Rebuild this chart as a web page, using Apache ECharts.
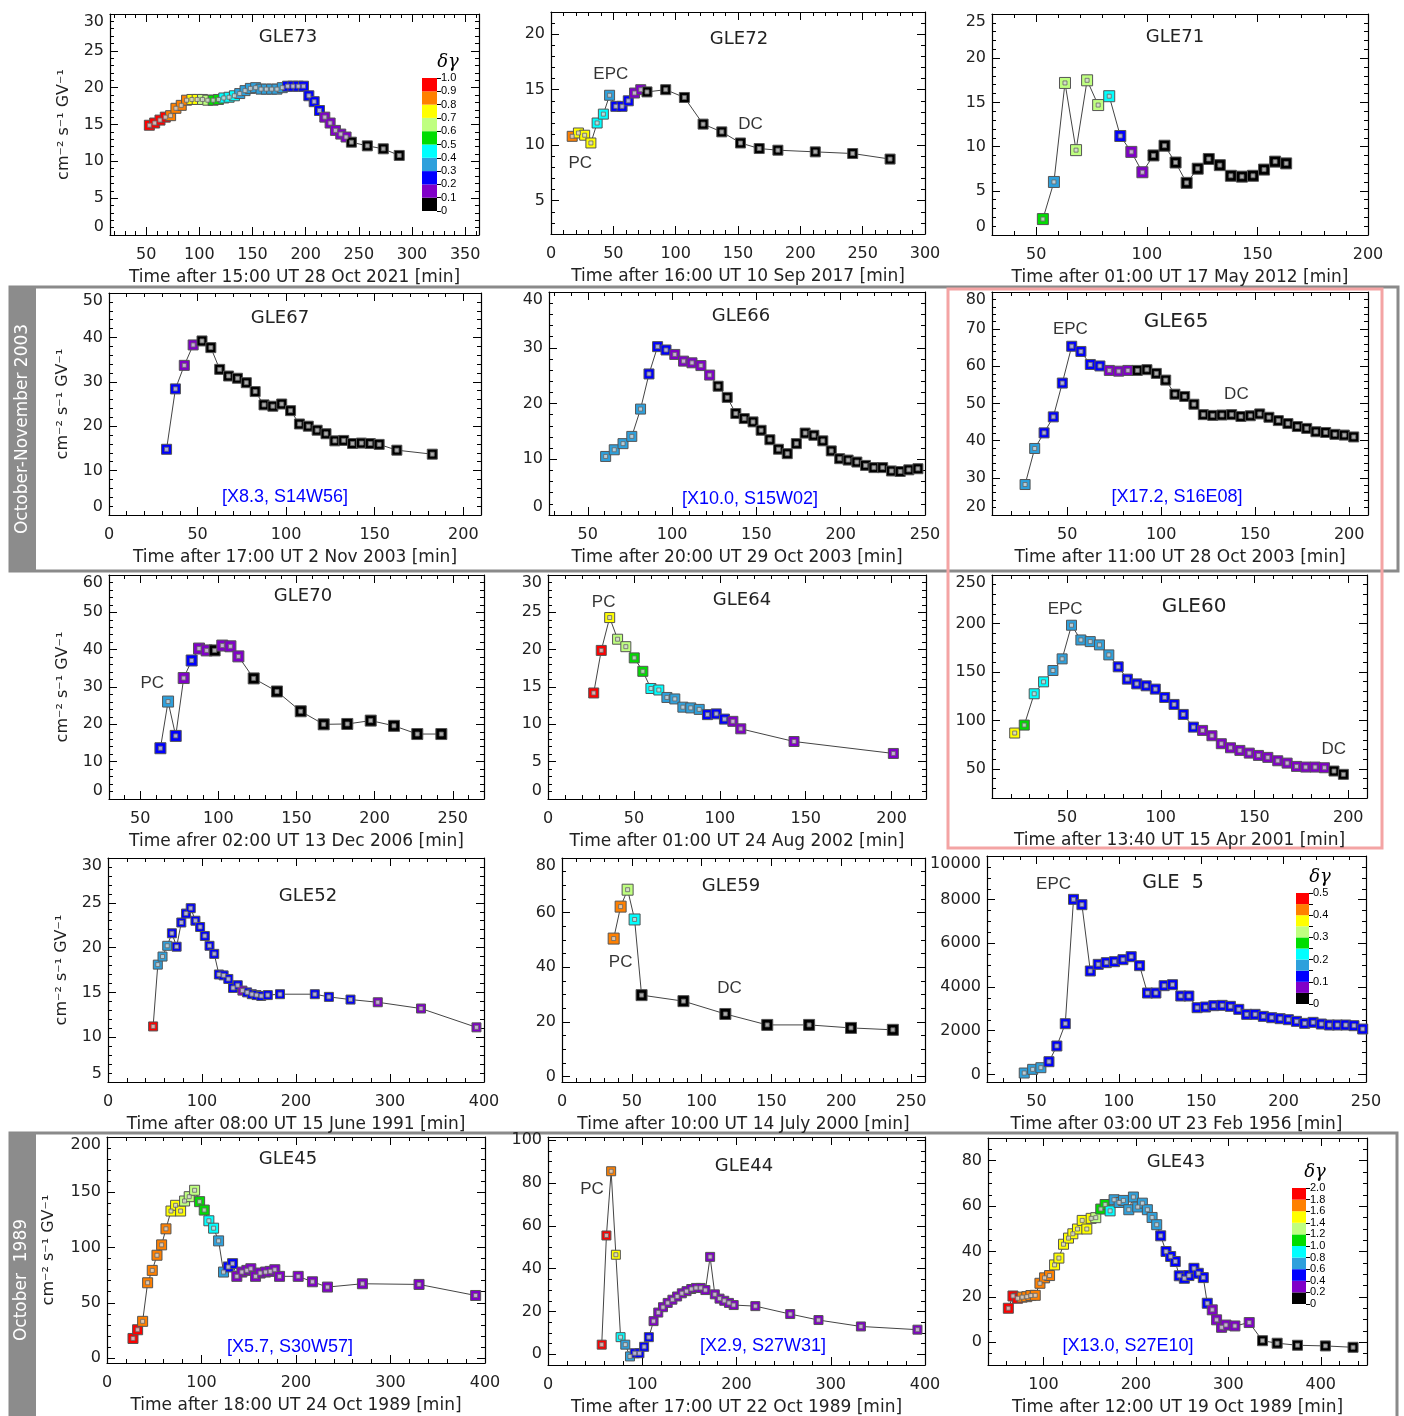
<!DOCTYPE html>
<html><head><meta charset="utf-8">
<script src="https://cdn.jsdelivr.net/npm/echarts@6/dist/echarts.min.js"></script>
<style>html,body{margin:0;padding:0;background:#fff}#c{width:1404px;height:1416px}</style>
</head><body><div id="c"></div>
<script>
// δγ colour table (bins from 0 upward)
const PALETTE = ['#000000','#8000c8','#0000ff','#2ea0dc','#00ffff','#00dd00','#bfff80','#ffff00','#ff8000','#ff0000'];

// ---------------- DATA ----------------
const gle73Time = [53,58,63,68,73,78,83,88,93,98,103,108,113,118,123,128,133,138,143,148,153,158,163,168,173,178,183,188,193,198,203,208,213,218,223,228,233,238,243,258,273,288];
const gle73Flux = [14.9,15.2,15.6,16.0,16.2,17.2,17.6,18.3,18.4,18.4,18.4,18.3,18.3,18.4,18.6,18.7,18.9,19.2,19.6,19.9,20.0,19.8,19.8,19.8,19.8,20.0,20.2,20.2,20.2,20.2,18.9,18.1,16.9,16.0,15.2,14.2,13.7,13.3,12.6,12.1,11.7,10.8];
const gle73Dg   = [9,9,9,9,8,8,8,8,7,7,6,6,5,5,4,4,4,3,3,3,3,3,3,3,3,3,2,2,2,2,2,2,2,1,1,1,1,1,0,0,0,0];

const gle72Time = [17,22,27,32,37,42,47,52,57,62,67,72,77,92,107,122,137,152,167,182,212,242,272];
const gle72Flux = [10.8,11.1,10.9,10.2,12.0,12.8,14.5,13.5,13.5,14.0,14.7,15.0,14.8,15.0,14.3,11.9,11.2,10.2,9.7,9.55,9.4,9.25,8.75];
const gle72Dg   = [8,7,7,7,4,4,3,2,2,2,1,1,0,0,0,0,0,0,0,0,0,0,0];

const gle71Time = [53,58,63,68,73,78,83,88,93,98,103,108,113,118,123,128,133,138,143,148,153,158,163];
const gle71Flux = [1.8,6.0,17.2,9.6,17.5,14.7,15.7,11.2,9.4,7.1,9.0,10.1,8.2,5.9,7.5,8.6,7.9,6.7,6.6,6.7,7.4,8.3,8.1];
const gle71Dg   = [5,3,6,6,6,6,4,2,1,1,0,0,0,0,0,0,0,0,0,0,0,0,0];

const gle67Time = [32.5,37.5,42.5,47.5,52.5,57.5,62.5,67.5,72.5,77.5,82.5,87.5,92.5,97.5,102.5,107.5,112.5,117.5,122.5,127.5,132.5,137.5,142.5,147.5,152.5,162.5,182.5];
const gle67Flux = [14.8,28.4,33.7,38.3,39.2,37.7,32.8,31.3,30.8,29.8,27.8,24.8,24.5,25.0,23.5,20.5,20.0,19.1,18.3,16.7,16.8,16.1,16.2,16.1,15.9,14.6,13.7];
const gle67Dg   = [2,2,1,1,0,0,0,0,0,0,0,0,0,0,0,0,0,0,0,0,0,0,0,0,0,0,0];

const gle66Time = [60.6,65.7,70.9,76.1,81.3,86.3,91.4,96.4,101.6,106.8,111.8,117.1,122.3,127.3,132.7,137.8,142.8,148.0,152.8,158.0,163.1,168.3,173.7,178.9,184.1,189.4,194.4,199.4,204.4,209.6,214.7,219.7,224.9,230.1,235.3,240.4,245.8];
const gle66Flux = [10.5,11.7,12.8,14.1,19.0,25.3,30.2,29.6,28.8,27.6,27.3,26.8,25.1,23.1,21.1,18.2,17.3,16.7,15.2,13.5,11.8,11.0,12.8,14.7,14.3,13.3,11.5,10.1,9.85,9.5,8.9,8.5,8.5,7.9,7.8,8.1,8.3];
const gle66Dg   = [3,3,3,3,3,2,2,2,1,1,1,1,1,0,0,0,0,0,0,0,0,0,0,0,0,0,0,0,0,0,0,0,0,0,0,0,0];

const gle65Time = [27.6,32.7,37.7,42.6,47.4,52.4,57.3,62.3,67.4,72.4,77.4,82.3,87.3,92.4,97.4,102.4,107.3,112.5,117.4,122.4,127.4,132.3,137.5,142.4,147.4,152.4,157.3,162.3,167.4,172.4,177.4,182.3,187.5,192.4,197.4,202.4];
const gle65Flux = [28.2,37.9,42.1,46.4,55.5,65.4,64.0,60.5,60.1,58.9,58.7,58.9,58.9,59.1,58.1,56.3,52.5,51.9,49.8,47.0,46.8,46.9,47.0,46.5,46.7,47.2,46.3,45.4,44.6,43.8,43.3,42.4,42.2,41.7,41.5,41.0];
const gle65Dg   = [3,3,2,2,2,2,2,2,2,1,1,1,0,0,0,0,0,0,0,0,0,0,0,0,0,0,0,0,0,0,0,0,0,0,0,0];

const gle70Time = [62.9,67.8,72.7,77.8,82.9,87.6,92.5,97.6,102.5,107.7,112.8,122.6,137.5,152.7,167.4,182.5,197.5,212.4,227.3,242.7];
const gle70Flux = [13.6,26.1,16.9,32.4,37.1,40.3,39.8,39.8,41.1,40.9,38.2,32.3,28.8,23.5,20.0,20.1,21.0,19.6,17.4,17.4];
const gle70Dg   = [2,3,2,1,2,1,1,0,1,1,1,0,0,0,0,0,0,0,0,0];

const gle64Time = [26.6,31.0,35.9,40.5,45.3,50.2,55.2,59.9,64.5,69.2,73.8,78.5,83.1,88.0,92.8,97.9,102.7,107.6,112.2,143.2,201.0];
const gle64Flux = [14.2,19.9,24.3,21.4,20.4,18.9,17.1,14.8,14.6,13.6,13.4,12.3,12.2,12.0,11.3,11.4,10.7,10.4,9.4,7.7,6.1];
const gle64Dg   = [9,9,7,6,6,5,5,4,4,3,3,3,3,3,2,2,2,1,1,1,1];

const gle60Time = [22.1,27.2,32.5,37.5,42.5,47.4,52.4,57.4,62.4,67.3,72.3,77.3,82.2,87.2,92.2,97.1,102.1,107.1,112.0,117.4,122.3,127.3,132.3,137.2,142.2,147.2,152.1,157.1,162.4,167.4,172.4,177.3,182.3,187.3,192.4,197.4];
const gle60Flux = [87,95.2,127.5,139.8,151.5,163.5,198.2,183,181.3,177.9,167.6,155.3,142.6,137.7,135.7,132.3,123.7,116.5,106.2,93.1,89.7,84.2,76.0,71.8,69.1,66.3,63.9,61.9,58.4,56.0,52.6,51.9,51.9,51.2,47.8,44.4];
const gle60Dg   = [7,5,4,4,3,3,3,3,3,3,3,2,2,2,2,2,2,2,2,2,1,1,1,1,1,1,1,1,1,1,1,1,1,1,0,0];

const gle52Time = [48,53,58,63,68,73,78,83,88,93,98,103,108,113,118,123,128,133,138,143,148,153,158,163,170,183,220,235,258,287,333,392];
const gle52Flux = [11.2,18.1,19.0,20.2,21.6,20.1,22.8,23.8,24.4,23.0,22.3,21.3,20.2,19.3,17.0,16.9,16.5,15.5,15.8,15.2,15.0,14.8,14.7,14.6,14.7,14.8,14.8,14.5,14.2,13.9,13.2,11.1];
const gle52Dg   = [9,3,3,3,2,2,2,2,2,2,2,2,2,2,2,2,2,2,2,1,2,2,2,2,2,2,2,2,2,1,1,1];

const gle59Time = [37,42,47,52,57,87,117,147,177,207,237];
const gle59Flux = [50.5,62.2,68.4,57.5,29.8,27.6,22.9,18.9,18.9,17.8,17.1];
const gle59Dg   = [8,8,6,4,0,0,0,0,0,0,0];

const gle5Time = [42.6,47.7,52.7,57.6,62.4,67.5,72.5,77.6,82.7,87.5,92.4,97.4,102.5,107.5,112.6,117.4,122.5,127.5,132.6,137.6,142.5,147.5,152.6,157.6,162.7,167.7,172.8,177.6,182.7,187.7,192.8,197.9,202.9,207.8,212.8,217.9,222.9,227.8,232.6,237.7,242.7,248.0];
const gle5Flux = [61,229,305,580,1298,2320,8015,7771,4733,5038,5115,5160,5252,5389,4977,3725,3725,4061,4107,3588,3588,3053,3084,3145,3160,3115,2977,2748,2748,2656,2595,2550,2504,2427,2336,2382,2305,2260,2260,2260,2229,2076];
const gle5Dg   = [3,3,3,2,2,2,2,2,2,2,2,2,2,2,2,2,2,2,2,2,2,2,2,2,2,2,2,2,2,2,2,2,2,2,2,2,2,2,2,2,2,2];

const gle45Time = [27.5,32.4,37.7,43.0,47.9,52.9,57.8,62.4,67.7,72.6,77.9,82.1,87.0,92.7,98.0,102.9,107.8,112.8,118.1,123.3,128.3,132.9,137.4,142.7,148.0,152.2,157.2,162.1,167.8,172.7,177.6,182.6,202.3,217.4,233.3,270.3,330.2,390.1];
const gle45Flux = [17.7,25.6,33.2,68.1,79.3,93.0,102.4,116.9,133.0,138.2,133.0,142.1,146.0,151.8,141.5,133.9,124.2,117.5,106.0,77.8,82.4,85.4,73.9,77.8,79.3,80.8,73.9,76.9,77.8,78.4,79.9,73.9,73.9,69.0,64.2,67.2,66.6,56.6];
const gle45Dg   = [9,9,8,8,8,8,8,8,7,7,7,6,6,6,5,5,4,4,3,3,2,2,1,1,1,1,1,1,1,1,1,1,1,1,1,1,1,1];

const gle44Time = [57,62,67,72,77,82,87,92,97,102,107,112,117,122,127,132,137,142,147,152,157,162,167,172,177,182,187,192,197,220,257,287,332,392];
const gle44Flux = [4.5,55.5,85.5,46.5,8,4.5,-1,0.5,0.5,3.5,8,15.5,19.5,22,24,25.5,27,28.5,29.5,30.5,31,31,30,45.5,28,26,25,24,23,22.5,18.8,16,13,11.5];
const gle44Dg   = [9,9,8,7,4,3,3,2,2,2,2,1,1,1,1,1,1,1,1,1,1,1,1,1,1,1,1,1,1,1,1,1,1,1];

const gle43Time = [62,67,72,77,82,86.4,91.1,96.2,101.2,106.6,112,116.7,121.7,127.1,131.8,136.8,141.9,146.9,151.6,156.6,162,166.7,172.1,176.4,181.8,186.5,192.3,197.3,202,207,212.4,217.5,222.5,226.8,232.6,237.6,242.6,246.9,252.4,257.4,262.8,267.5,272.9,277.2,282.6,287.3,292.7,297.4,307.1,322.6,337,352.8,374.8,405,434.9];
const gle43Flux = [15.0,20.4,19.4,19.9,20.1,20.6,20.7,26.0,28.4,29.4,34.1,37.1,43.2,45.9,47.8,49.9,53.7,49.9,54.6,54.9,58.7,60.7,57.9,62.8,61.6,62.5,58.4,64.0,59.6,61.3,58.4,55.0,51.8,46.9,40.0,37.8,35.6,29.3,28.2,29.4,32.6,30.4,28.5,17.2,14.3,9.9,6.6,7.6,7.2,8.7,0.7,-0.4,-1.3,-1.6,-2.2];
const gle43Dg   = [9,9,9,8,8,8,8,8,8,8,7,7,7,7,7,7,7,7,7,6,5,5,4,3,3,3,3,3,3,3,3,3,3,2,2,2,2,2,2,2,2,2,2,2,1,1,1,1,1,1,0,0,0,0,0];

// colour bar scales (legend values)
const cbar73 = {max:1.0, step:0.1, labelStep:0.1};
const cbar5  = {max:0.5, step:0.05, labelStep:0.1};
const cbar43 = {max:2.0, step:0.2, labelStep:0.2};

// text annotations [x, y, text] in data units
const gle72Notes = [[48,16.4,'EPC'],[23.5,8.4,'PC'],[160,11.9,'DC']];
const gle65Notes = [[51.7,70,'EPC'],[140,52.4,'DC']];
const gle70Notes = [[57.7,30.9,'PC']];
const gle64Notes = [[32.4,26.4,'PC']];
const gle60Notes = [[49,214.6,'EPC'],[192.3,69.8,'DC']];
const gle59Notes = [[42,41.8,'PC'],[120,32.4,'DC']];
const gle5Notes  = [[60.4,8687,'EPC']];
const gle44Notes = [[46.7,77,'PC']];

// ---------------- LAYOUT ----------------
const YNAME = 'cm\u207B\u00B2 s\u207B\u00B9 GV\u207B\u00B9';
const panels = [
 {t:gle73Time,f:gle73Flux,c:gle73Dg,box:[110,14,479,235],x:[16,363,50,10],y:[0,30,5,1],title:'GLE73',tp:[288,37],xname:'Time after 15:00 UT 28 Oct 2021 [min]',ygap:38,sym:10,cbar:{s:cbar73,r:[422,78,437,211],dg:[448,62]}},
 {t:gle72Time,f:gle72Flux,c:gle72Dg,box:[551,12,925,234],x:[0,300,50,10],y:[2,22,5,1],title:'GLE72',tp:[739,39],xname:'Time after 16:00 UT 10 Sep 2017 [min]',sym:10,notes:gle72Notes},
 {t:gle71Time,f:gle71Flux,c:gle71Dg,box:[992,14,1368,235],x:[30,200,50,10],y:[0,25,5,1],title:'GLE71',tp:[1175,37],xname:'Time after 01:00 UT 17 May 2012 [min]',sym:11},
 {t:gle67Time,f:gle67Flux,c:gle67Dg,box:[109,293,481,515],x:[0,210,50,10],y:[0,50,10,2],title:'GLE67',tp:[280,318],xname:'Time after 17:00 UT 2 Nov 2003 [min]',ygap:38,sym:10,flare:['[X8.3, S14W56]',285,497]},
 {t:gle66Time,f:gle66Flux,c:gle66Dg,box:[549,292,925,515],x:[27,250,50,10],y:[0,40,10,2],title:'GLE66',tp:[741,316],xname:'Time after 20:00 UT 29 Oct 2003 [min]',sym:10,flare:['[X10.0, S15W02]',750,499]},
 {t:gle65Time,f:gle65Flux,c:gle65Dg,box:[992,292,1368,515],x:[10,210,50,10],y:[20,80,10,2],title:'GLE65',tp:[1176,322],tsize:20,xname:'Time after 11:00 UT 28 Oct 2003 [min]',sym:10,notes:gle65Notes,flare:['[X17.2, S16E08]',1177,497]},
 {t:gle70Time,f:gle70Flux,c:gle70Dg,box:[109,575,484,799],x:[30,270,50,10],y:[0,60,10,2],title:'GLE70',tp:[303,596],xname:'Time afrer 02:00 UT 13 Dec 2006 [min]',ygap:38,sym:11,notes:gle70Notes},
 {t:gle64Time,f:gle64Flux,c:gle64Dg,box:[548,575,926,799],x:[0,220,50,10],y:[0,30,5,1],title:'GLE64',tp:[742,600],xname:'Time after 01:00 UT 24 Aug 2002 [min]',sym:10,notes:gle64Notes},
 {t:gle60Time,f:gle60Flux,c:gle60Dg,box:[992,575,1367,798],x:[10,210,50,10],y:[20,250,50,10],title:'GLE60',tp:[1194,607],tsize:20,xname:'Time after 13:40 UT 15 Apr 2001 [min]',sym:10,notes:gle60Notes},
 {t:gle52Time,f:gle52Flux,c:gle52Dg,box:[108,858,484,1082],x:[0,400,100,20],y:[5,30,5,1],title:'GLE52',tp:[308,896],xname:'Time after 08:00 UT 15 June 1991 [min]',ygap:38,sym:9},
 {t:gle59Time,f:gle59Flux,c:gle59Dg,box:[562,858,925,1082],x:[0,260,50,10],y:[-2,80,20,5],title:'GLE59',tp:[731,886],xname:'Time after 10:00 UT 14 July 2000 [min]',sym:11,notes:gle59Notes},
 {t:gle5Time,f:gle5Flux,c:gle5Dg,box:[987,856,1366,1082],x:[20,250,50,10],y:[-350,10000,2000,500],title:'GLE  5',tp:[1173,883],tsize:19,xname:'Time after 03:00 UT 23 Feb 1956 [min]',sym:10,notes:gle5Notes,cbar:{s:cbar5,r:[1296,893,1309,1004],dg:[1320,877]}},
 {t:gle45Time,f:gle45Flux,c:gle45Dg,box:[107,1137,485,1363],x:[0,400,100,20],y:[-4.5,200,50,10],title:'GLE45',tp:[288,1159],xname:'Time after 18:00 UT 24 Oct 1989 [min]',ygap:50,sym:10,flare:['[X5.7, S30W57]',290,1347]},
 {t:gle44Time,f:gle44Flux,c:gle44Dg,box:[548,1137,925,1365],x:[0,400,100,20],y:[-5,101.5,20,5],title:'GLE44',tp:[744,1166],xname:'Time after 17:00 UT 22 Oct 1989 [min]',sym:9,notes:gle44Notes,flare:['[X2.9, S27W31]',763,1346]},
 {t:gle43Time,f:gle43Flux,c:gle43Dg,box:[988,1138,1367,1365],x:[40,450,100,20],y:[-10,90,20,5],title:'GLE43',tp:[1176,1162],xname:'Time after 12:00 UT 19 Oct 1989 [min]',sym:10,flare:['[X13.0, S27E10]',1128,1346],cbar:{s:cbar43,r:[1292,1188,1306,1304],dg:[1315,1172]}}
];

const FONT = 'DejaVu Sans';
const TXT = '#222';
function tickVals(min,max,step){
  const out=[]; let k=Math.ceil(min/step-1e-9);
  for(;k*step<=max+1e-9;k++){ out.push(+(k*step).toFixed(6)); }
  return out;
}
const option = {animation:false, backgroundColor:'#fff', grid:[], xAxis:[], yAxis:[], series:[], graphic:[]};

function mkAxis(dim, gridIndex, pos, rng, ticks, len, opts){
  const a = {gridIndex, type:'value', position:pos, min:rng[0], max:rng[1], scale:true,
    axisLine:{show:!!opts.line, onZero:false, lineStyle:{color:'#000',width:1.2}},
    axisTick:{show:true, inside:true, length:len, customValues:ticks, lineStyle:{color:'#000',width:1}},
    axisLabel:{show:false}, splitLine:{show:false}, splitArea:{show:false}};
  if(opts.labels){
    a.axisLabel = {show:true, customValues:opts.labels, showMinLabel:true, showMaxLabel:true,
      fontFamily:FONT, fontSize:16, color:TXT, margin: dim==='x'?12:6, formatter: v=>String(v)};
    if(dim==='y'){
      if(Math.abs(opts.labels[0]-rng[0])<1e-9) a.axisLabel.verticalAlignMinLabel='bottom';
      if(Math.abs(opts.labels[opts.labels.length-1]-rng[1])<1e-9) a.axisLabel.verticalAlignMaxLabel='top';
    }
  }
  if(opts.name){
    a.name=opts.name; a.nameLocation='middle'; a.nameGap=opts.gap;
    a.nameTextStyle={fontFamily:FONT, fontSize:dim==='x'?17:16, color:TXT};
  }
  return a;
}

panels.forEach(p=>{
  const [l,t,r,b]=p.box;
  const g0=option.grid.length;
  option.grid.push({left:l,top:t,width:r-l,height:b-t,outerBoundsMode:'none'});
  option.grid.push({left:l,top:t,width:r-l,height:b-t,outerBoundsMode:'none'});
  const xi=option.xAxis.length, yi=option.yAxis.length;
  const xr=[p.x[0],p.x[1]], yr=[p.y[0],p.y[1]];
  const xMaj=tickVals(p.x[0],p.x[1],p.x[2]), xMin=tickVals(p.x[0],p.x[1],p.x[3]);
  const yMaj=tickVals(p.y[0],p.y[1],p.y[2]), yMin=tickVals(p.y[0],p.y[1],p.y[3]);
  option.xAxis.push(mkAxis('x',g0,'bottom',xr,xMaj,8,{line:true,labels:xMaj,name:p.xname,gap:34}));
  option.xAxis.push(mkAxis('x',g0,'top',xr,xMaj,8,{line:true}));
  option.xAxis.push(mkAxis('x',g0+1,'bottom',xr,xMin,4,{}));
  option.xAxis.push(mkAxis('x',g0+1,'top',xr,xMin,4,{}));
  option.yAxis.push(mkAxis('y',g0,'left',yr,yMaj,8,{line:true,labels:yMaj,name:p.ygap?YNAME:null,gap:p.ygap}));
  option.yAxis.push(mkAxis('y',g0,'right',yr,yMaj,8,{line:true}));
  option.yAxis.push(mkAxis('y',g0+1,'left',yr,yMin,4,{}));
  option.yAxis.push(mkAxis('y',g0+1,'right',yr,yMin,4,{}));

  option.series.push({type:'line', xAxisIndex:xi, yAxisIndex:yi, silent:true, z:3,
    data:p.t.map((v,k)=>({value:[v,p.f[k]], itemStyle:{color:PALETTE[p.c[k]]}})),
    symbol:'rect', symbolSize:p.sym, showSymbol:true, showAllSymbol:true,
    lineStyle:{color:'#444',width:1}, itemStyle:{borderColor:'#555',borderWidth:1}});
  option.series.push({type:'scatter', xAxisIndex:xi, yAxisIndex:yi, silent:true, z:4,
    data:p.t.map((v,k)=>[v,p.f[k]]), symbol:'rect', symbolSize:4,
    itemStyle:{color:'#d8d8d8', borderColor:'#666', borderWidth:1}});
  if(p.notes){
    option.series.push({type:'scatter', xAxisIndex:xi, yAxisIndex:yi, silent:true, z:5,
      data:p.notes.map(n=>({value:[n[0],n[1]], label:{formatter:n[2]}})), symbol:'rect', symbolSize:1,
      itemStyle:{color:'rgba(0,0,0,0)'},
      label:{show:true, position:'inside', fontFamily:'Liberation Sans', fontSize:17, color:'#000'}});
  }
  option.graphic.push({type:'text', x:p.tp[0], y:p.tp[1], z:10, silent:true,
    style:{text:p.title, fill:TXT, font:(p.tsize||18)+'px "'+FONT+'"', align:'center', verticalAlign:'middle'}});
  if(p.flare){
    option.graphic.push({type:'text', x:p.flare[1], y:p.flare[2], z:10, silent:true,
      style:{text:p.flare[0], fill:'#0000ff', font:'18px "Liberation Sans"', align:'center', verticalAlign:'middle'}});
  }
  if(p.cbar){
    const cb=p.cbar, s=cb.s, [cl,ct,cr,cbt]=cb.r;
    const gi=option.grid.length;
    option.grid.push({left:cl,top:ct,width:cr-cl,height:cbt-ct,outerBoundsMode:'none'});
    const cxi=option.xAxis.length, cyi=option.yAxis.length;
    option.xAxis.push({gridIndex:gi,type:'category',data:['d'],show:false});
    option.yAxis.push({gridIndex:gi,type:'value',min:0,max:s.max,position:'right',
      axisLine:{show:false},
      axisTick:{show:true,inside:false,length:4,customValues:tickVals(0,s.max,s.step),lineStyle:{color:'#000'}},
      axisLabel:{show:true,customValues:tickVals(0,s.max,s.labelStep),showMinLabel:true,showMaxLabel:true,hideOverlap:false,
        margin:4,fontFamily:'Liberation Sans',fontSize:11,color:'#000',
        formatter:v=>v===0?'0':v.toFixed(1)},
      splitLine:{show:false}});
    const nb=Math.round(s.max/s.step);
    for(let k=0;k<nb;k++){
      option.series.push({type:'bar',xAxisIndex:cxi,yAxisIndex:cyi,stack:'cb'+gi,silent:true,barWidth:'100%',
        data:[s.step], itemStyle:{color:PALETTE[Math.min(9,Math.floor(k*10/nb))]}});
    }
    option.graphic.push({type:'text', x:cb.dg[0], y:cb.dg[1], z:10, silent:true,
      style:{text:'\u03B4\u03B3', fill:'#000', font:'italic 18px "DejaVu Serif"', align:'center', verticalAlign:'middle'}});
  }
});

// group frames
option.graphic.unshift(
  {type:'rect', z:0, silent:true, shape:{x:10,y:287,width:1388,height:284}, style:{fill:'none',stroke:'#8a8a8a',lineWidth:3}},
  {type:'rect', z:0, silent:true, shape:{x:10,y:287,width:26,height:284}, style:{fill:'#8c8c8c'}},
  {type:'text', z:1, silent:true, x:23, y:429, rotation:Math.PI/2, style:{text:'October-November 2003', fill:'#fff', font:'17px "DejaVu Sans"', align:'center', verticalAlign:'middle'}},
  {type:'rect', z:0, silent:true, shape:{x:948,y:289,width:434,height:559}, style:{fill:'none',stroke:'#f4a4a4',lineWidth:3}},
  {type:'rect', z:0, silent:true, shape:{x:10,y:1133,width:1387,height:300}, style:{fill:'none',stroke:'#8a8a8a',lineWidth:3}},
  {type:'rect', z:0, silent:true, shape:{x:10,y:1133,width:26,height:290}, style:{fill:'#8c8c8c'}},
  {type:'text', z:1, silent:true, x:22, y:1280, rotation:Math.PI/2, style:{text:'October  1989', fill:'#fff', font:'17px "DejaVu Sans"', align:'center', verticalAlign:'middle'}}
);

const chart = echarts.init(document.getElementById('c'), null, {renderer:'canvas'});
chart.setOption(option);
</script></body></html>
